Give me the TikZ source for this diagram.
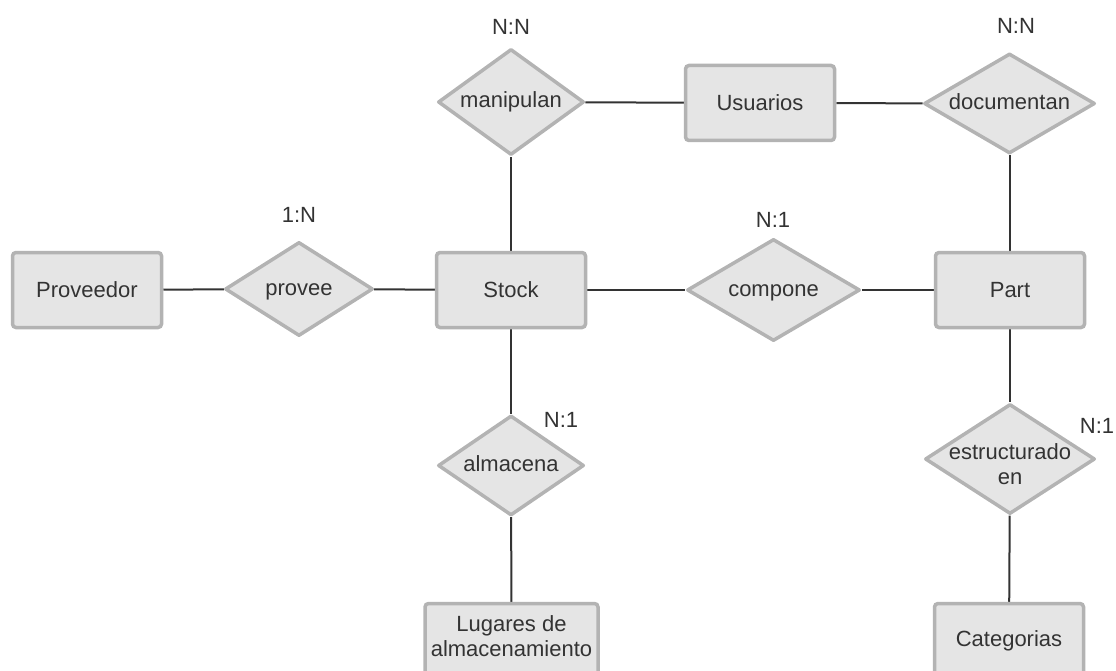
\documentclass[tikz,border=0pt]{standalone}
\usepackage{fontspec}
\setmainfont{Liberation Sans}
\usetikzlibrary{shapes.geometric,backgrounds}

\definecolor{shapefill}{HTML}{E5E5E5}
\definecolor{shapeline}{HTML}{B3B3B3}
\definecolor{inkdark}{HTML}{333333}

\tikzset{
  erfont/.style={font=\fontsize{22}{25}\selectfont, text=inkdark},
  entity/.style={erfont, rectangle, rounded corners=3.5pt, draw=shapeline,
    fill=shapefill, line width=3.5pt, minimum width=149pt, minimum height=75pt,
    inner sep=0pt, align=center},
  relation/.style={shape=diamond, draw=shapeline, fill=shapefill,
    line width=3.5pt, line join=round, inner sep=0pt},
  reltext/.style={erfont, inner sep=0pt, text height=16pt, text depth=4pt},
  reltwo/.style={erfont, inner sep=0pt, align=center, yshift=-5pt},
  card/.style={erfont},
  link/.style={draw=inkdark, line width=2pt}
}

\begin{document}
\begin{tikzpicture}[x=1pt, y=-1pt]
  \useasboundingbox (0,0) rectangle (1116,671);
  \clip (0,0) rectangle (1116,671);

  % entities
  \node[entity] (prov) at (87,290) {Proveedor};
  \node[entity] (stock) at (511,290) {Stock};
  \node[entity] (usu) at (760,103) {Usuarios};
  \node[entity] (part) at (1010,290) {Part};
  \node[entity, minimum width=173pt, text depth=10pt] (lug) at (511.5,641) {Lugares de\\almacenamiento};
  \node[entity] (cat) at (1009,641) {Categorias};

  % relationships
  \node[relation, minimum width=148pt, minimum height=94pt,
        label={[reltext]center:provee}] (provee) at (299,289) {};
  \node[relation, minimum width=146pt, minimum height=106pt,
        label={[reltext]center:manipulan}] (manip) at (511,102) {};
  \node[relation, minimum width=173pt, minimum height=102pt,
        label={[reltext]center:compone}] (comp) at (773.5,290) {};
  \node[relation, minimum width=171pt, minimum height=100pt,
        label={[reltext]center:documentan}] (doc) at (1009.5,103.5) {};
  \node[relation, minimum width=146pt, minimum height=100pt,
        label={[reltext]center:almacena}] (alm) at (511,465.5) {};
  \node[relation, minimum width=170pt, minimum height=110pt,
        label={[reltwo]center:estructurado\\en}] (estr) at (1010,459) {};

  % cardinalities
  \node[card] (c1) at (299,215) {1:N};
  \node[card] (c2) at (511,27) {N:N};
  \node[card] (c3) at (1016,26) {N:N};
  \node[card] (c4) at (773,220) {N:1};
  \node[card] (c5) at (561,420) {N:1};
  \node[card] (c6) at (1097,426) {N:1};

  % connectors
  \begin{scope}[on background layer]
    \draw[link] (prov) -- (provee);
    \draw[link] (provee) -- (stock);
    \draw[link] (stock) -- (comp);
    \draw[link] (comp) -- (part);
    \draw[link] (stock) -- (manip);
    \draw[link] (manip) -- (usu);
    \draw[link] (usu) -- (doc);
    \draw[link] (doc.south) -- (part.north -| doc.south);
    \draw[link] (stock) -- (alm);
    \draw[link] (alm) -- (lug);
    \draw[link] (part) -- (estr);
    \draw[link] (estr) -- (cat);
  \end{scope}
\end{tikzpicture}
\end{document}
